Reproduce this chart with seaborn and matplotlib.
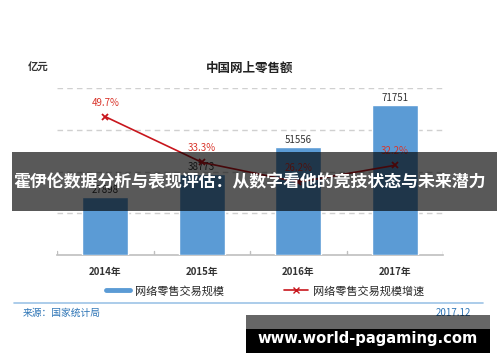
import numpy as np
import pandas as pd
import matplotlib
matplotlib.use("Agg")
import matplotlib.pyplot as plt
from matplotlib.patches import Rectangle
from matplotlib.lines import Line2D
import seaborn as sns

# data
years = ["2014年", "2015年", "2016年", "2017年"]
sales = [27898, 38773, 51556, 71751]          # 亿元
growth = [49.7, 33.3, 26.2, 32.2]              # %

sns.set_style("white")
plt.rcParams['font.family'] = ['Noto Sans CJK SC', 'DejaVu Sans']

W, H = 500, 362
fig = plt.figure(figsize=(W / 100, H / 100), dpi=100)

def fx(px):
    return px / W

def fy(py):
    return 1 - py / H

bar_col = '#5B9BD5'
line_col = '#C8161D'
pct_col = '#D9352B'

ax = fig.add_axes([fx(57), fy(255), fx(443) - fx(57), fy(88) - fy(255)])
df = pd.DataFrame({'year': years, 'sales': sales})
sns.barplot(data=df, x='year', y='sales', color=bar_col, saturation=1,
            width=0.48, ax=ax, zorder=3)
ax.set_ylim(0, 80000)
ax.set_xlim(-0.5, 3.5)
ax.set_yticks([20000, 40000, 60000, 80000])
ax.yaxis.grid(True, linestyle=(0, (4, 3)), color='#D0D0D0', lw=1)
ax.set_axisbelow(True)
ax.set_xlabel('')
ax.set_ylabel('')
for s in ['top', 'left', 'right']:
    ax.spines[s].set_visible(False)
ax.spines['bottom'].set_color('#BFBFBF')
ax.spines['bottom'].set_linewidth(1.2)
for b in np.arange(-0.5, 4, 1):
    ax.plot([b, b], [0, 1800], color='#BFBFBF', lw=1, zorder=4)

for i, v in enumerate(sales):
    ax.text(i, v + 1000, f"{v}", ha='center', va='bottom', fontsize=7,
            color='#333333', zorder=5)

ax2 = ax.twinx()
sns.lineplot(x=np.arange(len(growth)), y=growth, ax=ax2, color=line_col,
             lw=1.2, marker='x', markersize=5, markeredgewidth=1.3,
             markeredgecolor=line_col)
ax2.set_ylim(0, 60)
ax2.set_xlim(-0.5, 3.5)
ax2.axis('off')
for i, g in enumerate(growth):
    ax2.text(i, g + 3.2, f"{g}%", ha='center', va='bottom', fontsize=7,
             color=pct_col)

# twinx turns the left ticks back on, so hide them afterwards
ax.tick_params(axis='y', left=False, right=False, labelleft=False)
ax.tick_params(axis='x', length=0, labelsize=7, pad=9, colors='#333333')
for lbl in ax.get_xticklabels():
    lbl.set_fontweight('bold')

# titles
fig.text(fx(250), fy(68), "中国网上零售额", ha='center', va='center',
         fontsize=9, fontweight='bold', color='#222222')
fig.text(fx(38), fy(68), "亿元", ha='center', va='center',
         fontsize=7.5, fontweight='bold', color='#333333')

# legend
handles = [Line2D([], [], color=bar_col, lw=3.5),
           Line2D([], [], color=line_col, lw=1.2, marker='x', markersize=5)]
fig.legend(handles, ["网络零售交易规模", "网络零售交易规模增速"],
           loc='center', bbox_to_anchor=(fx(265), fy(291)), ncol=2,
           frameon=False, fontsize=8, handlelength=2.2, handletextpad=0.4,
           columnspacing=5.4)

# footer
fig.add_artist(Line2D([fx(14), fx(483)], [fy(303), fy(303)], color='#9DC3E6',
                      lw=1.2))
fig.text(fx(23), fy(313), "来源：国家统计局", ha='left', va='center',
         fontsize=7, color='#2E75B6')
fig.text(fx(471), fy(313), "2017.12", ha='right', va='center',
         fontsize=7, color='#2E75B6')

# banner overlay
fig.add_artist(Rectangle((fx(12), fy(211)), fx(497) - fx(12), fy(152) - fy(211),
                         transform=fig.transFigure, facecolor='black',
                         alpha=0.65, edgecolor='none', zorder=10))
fig.text(fx(250), fy(182), "霍伊伦数据分析与表现评估：从数字看他的竞技状态与未来潜力",
         ha='center', va='center', fontsize=12.2, fontweight='bold',
         color='white', zorder=11)

# watermark
fig.add_artist(Rectangle((fx(246), fy(353)), fx(490) - fx(246), fy(315) - fy(353),
                         transform=fig.transFigure, facecolor='black',
                         alpha=0.6, edgecolor='none', zorder=10))
fig.add_artist(Rectangle((fx(246), fy(353)), fx(490) - fx(246), fy(329) - fy(353),
                         transform=fig.transFigure, facecolor='black',
                         edgecolor='none', zorder=10))
fig.text(fx(368), fy(339), "www.world-pagaming.com", ha='center', va='center',
         fontsize=10.6, fontweight='bold', color='white',
         family=['DejaVu Sans'], zorder=11)

fig.savefig("out.png", dpi=100)
